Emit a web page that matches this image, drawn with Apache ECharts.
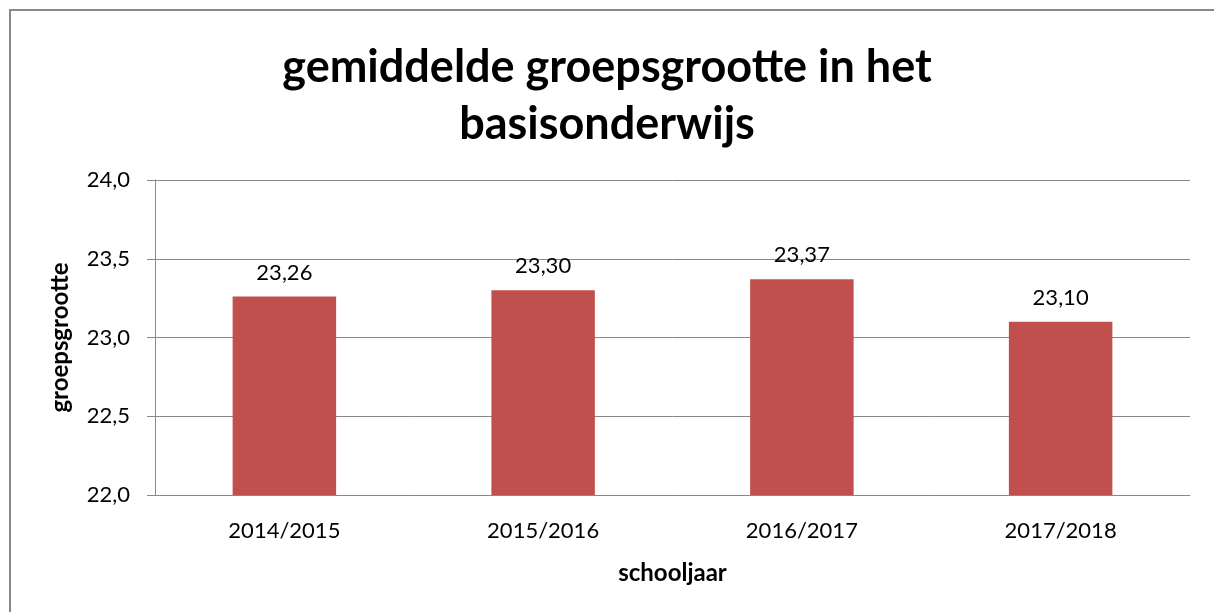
<!DOCTYPE html>
<html>
<head>
<meta charset="utf-8">
<script src="https://cdn.jsdelivr.net/npm/echarts@6/dist/echarts.min.js"></script>
<style>
  html, body { margin: 0; padding: 0; background: #fff; }
  #chart { width: 1214px; height: 612px; }
</style>
</head>
<body>
<div id="chart"></div>
<script>
const schooljaren = ["2014/2015", "2015/2016", "2016/2017", "2017/2018"];
const groepsgrootte = [23.26, 23.30, 23.37, 23.10];

const komma = (v, d) => Number(v).toFixed(d).replace(".", ",");

const chart = echarts.init(document.getElementById("chart"));
const option = {
  backgroundColor: "#fff",
  animation: false,
  textStyle: { fontFamily: "Lato, 'Open Sans', sans-serif" },
  title: {
    text: "gemiddelde groepsgrootte in het\nbasisonderwijs",
    left: "center",
    top: 34,
    textStyle: {
      fontFamily: "Lato, sans-serif",
      fontSize: 45,
      fontWeight: "bold",
      lineHeight: 57,
      color: "#000",
    },
  },
  graphic: [
    {
      type: "rect",
      shape: { x: 10, y: 10, width: 1400, height: 800 },
      style: { fill: "none", stroke: "#888", lineWidth: 2 },
      silent: true,
    },
  ],
  grid: { left: 155, right: 24, top: 180, bottom: 117 },
  xAxis: {
    type: "category",
    data: schooljaren,
    name: "schooljaar",
    nameLocation: "middle",
    nameGap: 66,
    nameTextStyle: { fontSize: 24, fontWeight: "bold", color: "#000" },
    axisLine: { lineStyle: { color: "#888" } },
    axisTick: { length: 8, lineStyle: { color: "#888" } },
    axisLabel: { fontSize: 22, color: "#000", margin: 25 },
  },
  yAxis: {
    type: "value",
    min: 22,
    max: 24,
    interval: 0.5,
    name: "groepsgrootte",
    nameLocation: "middle",
    nameGap: 83,
    nameTextStyle: { fontSize: 24, fontWeight: "bold", color: "#000" },
    axisLine: { show: true, lineStyle: { color: "#888" } },
    axisTick: { show: true, length: 8, lineStyle: { color: "#888" } },
    splitLine: { lineStyle: { color: "#888" } },
    axisLabel: {
      fontSize: 22,
      color: "#000",
      margin: 25,
      formatter: (v) => komma(v, 1),
    },
  },
  series: [
    {
      type: "bar",
      data: groepsgrootte,
      barWidth: "40%",
      itemStyle: { color: "#C0504D" },
      label: {
        show: true,
        position: "top",
        distance: 13,
        fontSize: 22,
        color: "#000",
        formatter: (p) => komma(p.value, 2),
      },
    },
  ],
};
chart.setOption(option);
</script>
</body>
</html>
